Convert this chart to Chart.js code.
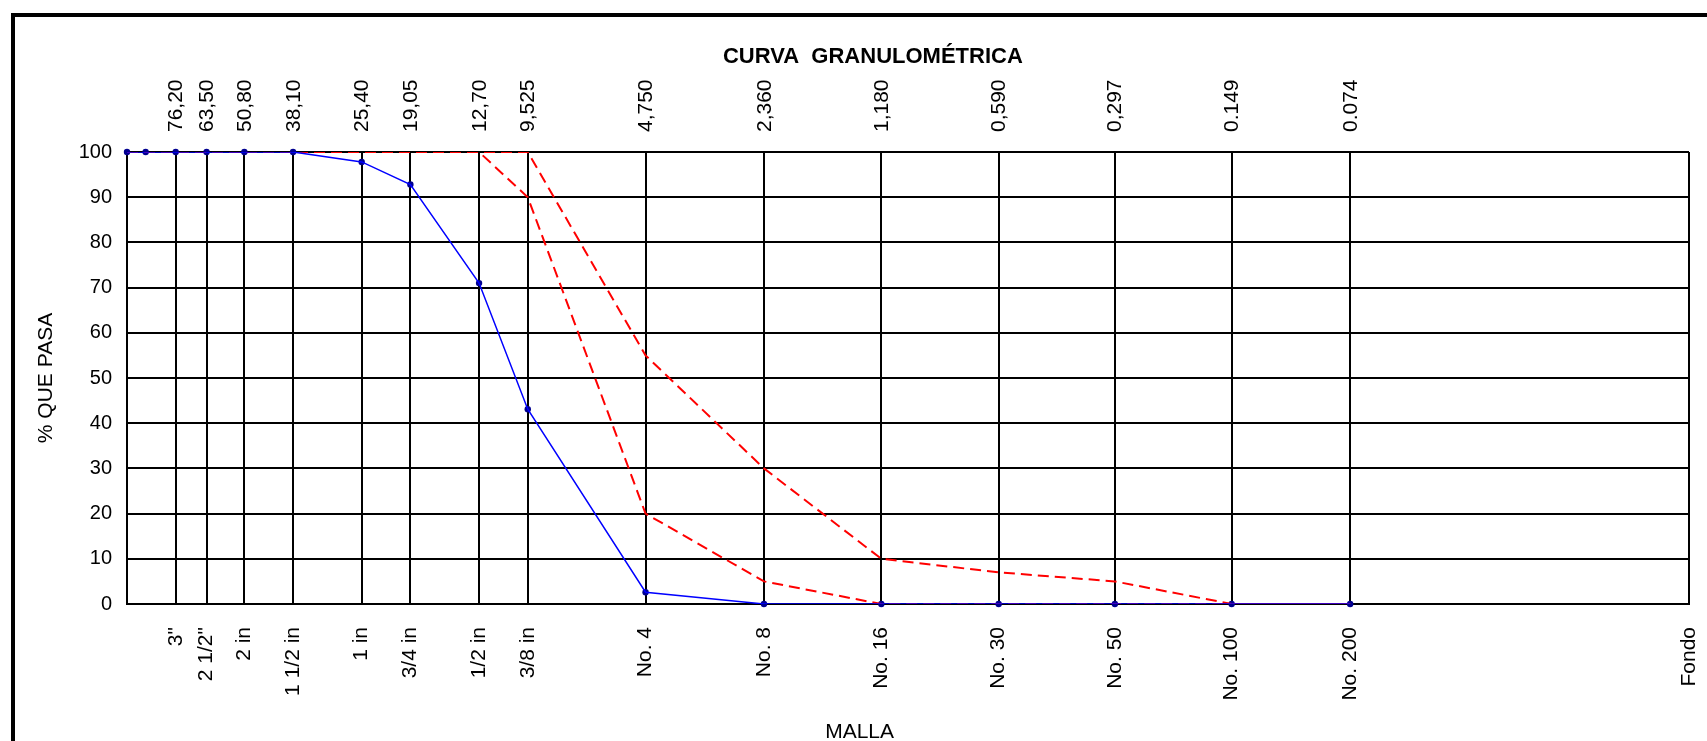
<!DOCTYPE html>
<html>
<head>
<meta charset="utf-8">
<script src="https://cdn.jsdelivr.net/npm/chart.js@4.4.1/dist/chart.umd.min.js"></script>
<style>
html,body{margin:0;padding:0;background:#fff;overflow:hidden;width:1707px;height:741px;}
#frame{position:absolute;left:11px;top:13px;width:1800px;height:900px;border-left:4px solid #000;border-top:4px solid #000;box-sizing:border-box;}
#wrap{position:absolute;left:0;top:0;width:1707px;height:741px;}
</style>
</head>
<body>
<div id="frame"></div>
<div id="wrap"><canvas id="c" width="1707" height="741"></canvas></div>
<script>
// ---- data ----
const chartTitle = 'CURVA  GRANULOMÉTRICA';
const xAxisTitle = 'MALLA';
const yAxisTitle = '% QUE PASA';

// sieve openings (mm) used as tick positions
const tickSizes = [76.2, 63.5, 50.8, 38.1, 25.4, 19.05, 12.7, 9.525, 4.75, 2.36, 1.18, 0.59, 0.297, 0.149, 0.074, 0.01];
const bottomLabels = ['3"', '2 1/2"', '2 in', '1 1/2 in', '1 in', '3/4 in', '1/2 in', '3/8 in', 'No. 4', 'No. 8', 'No. 16', 'No. 30', 'No. 50', 'No. 100', 'No. 200', 'Fondo'];
const topLabels = ['76,20', '63,50', '50,80', '38,10', '25,40', '19,05', '12,70', '9,525', '4,750', '2,360', '1,180', '0,590', '0,297', '0.149', '0.074', ''];

const xMin = 0.01;
const xMax = 101.6;
const yTicks = [0, 10, 20, 30, 40, 50, 60, 70, 80, 90, 100];

// sample curve
const sampleSizes = [101.6, 91, 76.2, 63.5, 50.8, 38.1, 25.4, 19.05, 12.7, 9.525, 4.75, 2.36, 1.18, 0.59, 0.297, 0.149, 0.074];
const samplePass  = [100, 100, 100, 100, 100, 100, 97.8, 92.8, 71, 43.1, 2.6, 0, 0, 0, 0, 0, 0];

// specification limits
const limitSizes = [101.6, 76.2, 63.5, 50.8, 38.1, 25.4, 19.05, 12.7, 9.525, 4.75, 2.36, 1.18, 0.59, 0.297, 0.149, 0.074];
const upperLimit = [100, 100, 100, 100, 100, 100, 100, 100, 100, 55, 30, 10, 7, 5, 0, 0];
const lowerLimit = [100, 100, 100, 100, 100, 100, 100, 100, 90, 20, 5, 0, 0, 0, 0, 0];

const pts = (xs, ys) => xs.map((x, i) => ({x: x, y: ys[i]}));

const FONT = "'Liberation Sans', Arial, sans-serif";
Chart.defaults.font.family = FONT;
Chart.defaults.color = '#000';

const extraTitles = {
  id: 'extraTitles',
  afterDraw(chart) {
    const {ctx, chartArea} = chart;
    const w = chartArea.right - chartArea.left;
    ctx.save();
    ctx.fillStyle = '#000';
    ctx.textAlign = 'center';
    ctx.textBaseline = 'alphabetic';
    ctx.font = 'bold 22px ' + FONT;
    ctx.fillText(chartTitle, chartArea.left + w * 0.4775, chartArea.top - 89);
    ctx.font = '21px ' + FONT;
    ctx.fillText(xAxisTitle, chartArea.left + w * 0.469, chartArea.bottom + 134);
    ctx.restore();
  }
};

const fitX = (h) => (s) => { s.height = h; s.paddingLeft = 0; s.paddingRight = 0; };

new Chart(document.getElementById('c'), {
  type: 'scatter',
  data: {
    datasets: [
      {
        label: 'Muestra',
        data: pts(sampleSizes, samplePass),
        showLine: true,
        borderColor: '#0000ff',
        borderWidth: 1.5,
        pointRadius: 0,
        tension: 0,
        xAxisID: 'x', yAxisID: 'y'
      },
      {
        label: 'Límite superior',
        data: pts(limitSizes, upperLimit),
        showLine: true,
        borderColor: '#ff0000',
        borderWidth: 2,
        borderDash: [11, 6],
        pointRadius: 0,
        tension: 0,
        xAxisID: 'x', yAxisID: 'y'
      },
      {
        label: 'Límite inferior',
        data: pts(limitSizes, lowerLimit),
        showLine: true,
        borderColor: '#ff0000',
        borderWidth: 2,
        borderDash: [11, 6],
        pointRadius: 0,
        tension: 0,
        xAxisID: 'x', yAxisID: 'y'
      },
      {
        label: 'Muestra (puntos)',
        data: pts(sampleSizes, samplePass),
        showLine: false,
        pointRadius: 3.2,
        pointBackgroundColor: '#000090',
        pointBorderColor: '#000090',
        pointBorderWidth: 0,
        clip: false,
        xAxisID: 'x', yAxisID: 'y'
      }
    ]
  },
  options: {
    responsive: false,
    animation: false,
    devicePixelRatio: 1,
    layout: { padding: { left: 11, right: 18, top: 77, bottom: 40 } },
    plugins: {
      legend: { display: false },
      title: { display: false },
      tooltip: { enabled: false }
    },
    scales: {
      x: {
        type: 'logarithmic',
        position: 'bottom',
        min: xMin, max: xMax,
        reverse: true,
        afterBuildTicks: (s) => { s.ticks = tickSizes.map(v => ({value: v})); },
        afterFit: fitX(97),
        ticks: {
          autoSkip: false,
          minRotation: 90, maxRotation: 90,
          padding: 23,
          font: { size: 21 },
          color: '#000',
          callback: (v, i) => bottomLabels[i]
        },
        grid: { color: '#000', lineWidth: 2, drawTicks: false },
        border: { display: true, color: '#000', width: 2 }
      },
      xTop: {
        type: 'logarithmic',
        position: 'top',
        min: xMin, max: xMax,
        reverse: true,
        afterBuildTicks: (s) => { s.ticks = tickSizes.map(v => ({value: v})); },
        afterFit: fitX(75),
        ticks: {
          autoSkip: false,
          minRotation: 90, maxRotation: 90,
          padding: 20,
          labelOffset: 26,
          font: { size: 21 },
          color: '#000',
          callback: (v, i) => topLabels[i]
        },
        grid: { display: false, drawTicks: false },
        border: { display: false }
      },
      y: {
        type: 'linear',
        position: 'left',
        min: 0, max: 100,
        afterBuildTicks: (s) => { s.ticks = yTicks.map(v => ({value: v})); },
        afterFit: (s) => { s.width = 116; s.paddingTop = 0; s.paddingBottom = 0; },
        ticks: {
          padding: 15,
          font: { size: 20 },
          color: '#000'
        },
        grid: { color: '#000', lineWidth: 2, drawTicks: false },
        border: { display: true, color: '#000', width: 2 },
        title: {
          display: true,
          text: yAxisTitle,
          font: { size: 21 },
          color: '#000',
          padding: { top: 23, bottom: 0 }
        }
      }
    }
  },
  plugins: [extraTitles]
});
</script>
</body>
</html>
